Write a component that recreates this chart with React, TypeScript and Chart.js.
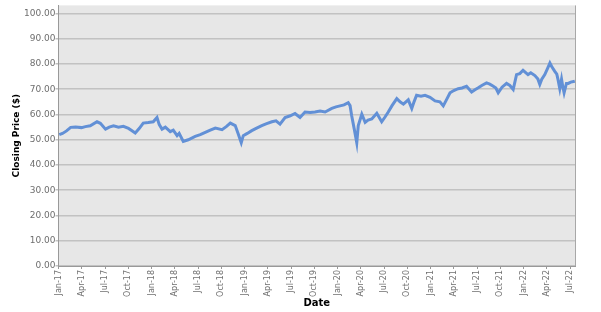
import React, { useEffect, useRef } from "react";
import { Chart, registerables } from "chart.js";

Chart.register(...registerables);

const dates: string[] = [
  "2017-01-04","2017-01-17","2017-02-02","2017-02-17","2017-03-07","2017-03-31","2017-04-15","2017-05-04","2017-05-31","2017-06-13",
  "2017-07-03","2017-07-18","2017-08-04","2017-08-24","2017-09-12","2017-10-02","2017-10-13","2017-10-29","2017-11-14","2017-11-29",
  "2017-12-19","2018-01-08","2018-01-23","2018-02-01","2018-02-11","2018-02-23","2018-03-14","2018-03-26","2018-04-10","2018-04-18",
  "2018-05-04","2018-05-24","2018-06-20","2018-07-10","2018-07-30","2018-08-19","2018-09-08","2018-10-04","2018-10-21","2018-11-06",
  "2018-11-25","2018-12-07","2018-12-19","2018-12-27","2019-01-12","2019-01-30","2019-02-15","2019-03-08","2019-03-25","2019-04-17",
  "2019-05-03","2019-05-19","2019-06-08","2019-06-28","2019-07-17","2019-08-06","2019-08-26","2019-09-15","2019-10-04","2019-10-24",
  "2019-11-13","2019-12-09","2019-12-26","2020-01-11","2020-01-27","2020-02-12","2020-02-19","2020-02-25","2020-03-06","2020-03-16",
  "2020-03-22","2020-04-05","2020-04-18","2020-04-29","2020-05-14","2020-06-03","2020-06-22","2020-07-05","2020-07-18","2020-08-02",
  "2020-08-21","2020-09-03","2020-09-16","2020-10-05","2020-10-19","2020-10-28","2020-11-07","2020-11-24","2020-12-10","2020-12-30",
  "2021-01-19","2021-02-07","2021-02-19","2021-03-01","2021-03-17","2021-04-01","2021-04-18","2021-05-03","2021-05-21","2021-06-10",
  "2021-06-23","2021-07-06","2021-07-20","2021-08-08","2021-08-21","2021-09-04","2021-09-14","2021-09-23","2021-10-08","2021-10-26",
  "2021-11-08","2021-11-21","2021-12-04","2021-12-17","2021-12-30","2022-01-19","2022-01-30","2022-02-14","2022-02-25","2022-03-04",
  "2022-03-12","2022-03-24","2022-04-05","2022-04-13","2022-04-20","2022-05-02","2022-05-10","2022-05-15","2022-05-22","2022-05-29",
  "2022-06-03","2022-06-08","2022-06-17","2022-06-24","2022-07-04","2022-07-20",
];

const closes: number[] = [
  52.0,52.5,53.5,54.9,55.0,54.8,55.2,55.5,57.1,56.5,
  54.2,55.0,55.5,55.0,55.3,54.5,53.8,52.7,54.5,56.6,
  56.8,57.1,58.8,56.0,54.2,55.0,53.2,53.8,51.6,52.5,
  49.3,50.0,51.3,52.0,52.9,53.8,54.6,54.0,55.2,56.6,
  55.6,52.3,48.8,51.6,52.5,53.6,54.5,55.6,56.3,57.1,
  57.5,56.2,58.8,59.5,60.4,58.8,61.0,60.8,61.0,61.4,
  61.0,62.4,63.0,63.4,63.8,64.7,63.5,59.5,54.2,48.8,
  55.6,60.1,56.9,57.8,58.2,60.5,57.1,59.0,61.0,63.5,
  66.3,65.0,64.1,65.8,62.4,65.0,67.6,67.2,67.6,66.8,
  65.4,65.0,63.4,65.5,68.6,69.5,70.2,70.5,71.2,68.9,
  69.8,70.6,71.5,72.5,72.0,71.2,70.5,68.6,70.8,72.3,
  71.5,69.9,75.8,76.2,77.5,75.8,76.5,75.4,74.0,71.9,
  74.0,75.8,78.5,80.4,79.0,77.1,76.0,73.8,70.2,74.0,
  71.0,68.6,72.3,72.3,72.8,73.2,
];

const monthNames: string[] = ["Jan","Feb","Mar","Apr","May","Jun","Jul","Aug","Sep","Oct","Nov","Dec"];
const yTicks: number[] = [0, 10, 20, 30, 40, 50, 60, 70, 80, 90, 100];
const xTickMonths: number[] = [0,3,6,9,12,15,18,21,24,27,30,33,36,39,42,45,48,51,54,57,60,63,66];

function monthIndex(d: string): number {
  const [y, m, day] = d.split("-").map(Number);
  const dim = new Date(y, m, 0).getDate();
  return (y - 2017) * 12 + (m - 1) + (day - 1) / dim;
}

function monthLabel(v: number): string {
  const i = Math.round(v);
  const yy = 17 + Math.floor(i / 12);
  return `${monthNames[i % 12]}-${yy}`;
}

export default function App() {
  const ref = useRef<HTMLCanvasElement | null>(null);
  useEffect(() => {
    if (!ref.current) return;
    const pts = dates.map((d, i) => ({ x: monthIndex(d), y: closes[i] }));
    const bgPlugin = {
      id: "bg",
      beforeDraw(chart: any) {
        const { ctx, chartArea: a } = chart;
        ctx.save();
        ctx.fillStyle = "#e7e7e7";
        ctx.fillRect(a.left, a.top, a.right - a.left, a.bottom - a.top);
        ctx.restore();
      },
      afterDraw(chart: any) {
        const { ctx, chartArea: a } = chart;
        ctx.save();
        ctx.strokeStyle = "#a8a8a8";
        ctx.lineWidth = 1;
        ctx.beginPath();
        ctx.moveTo(a.right + 0.5, a.top);
        ctx.lineTo(a.right + 0.5, a.bottom);
        ctx.stroke();
        ctx.restore();
      },
    };
    const chart = new Chart(ref.current, {
      type: "line",
      data: {
        datasets: [
          {
            data: pts,
            borderColor: "#6290d6",
            borderWidth: 3,
            pointRadius: 0,
            tension: 0,
            fill: false,
          },
        ],
      },
      options: {
        animation: false,
        responsive: false,
        parsing: false as any,
        layout: { padding: { left: 0, top: 2, right: 26, bottom: 0 } },
        plugins: { legend: { display: false }, tooltip: { enabled: false } },
        scales: {
          x: {
            type: "linear",
            min: 0,
            max: 66.64,
            afterBuildTicks(scale: any) {
              scale.ticks = xTickMonths.map((v) => ({ value: v }));
            },
            afterFit(scale: any) {
              scale.height = 46;
            },
            grid: { drawOnChartArea: false, drawTicks: true, tickLength: 3, color: "#999999" },
            border: { display: true, color: "#999999", width: 1 },
            ticks: {
              autoSkip: false,
              maxRotation: 90,
              minRotation: 90,
              padding: 1,
              color: "#707070",
              font: { family: "DejaVu Sans", size: 8 },
              callback: (v: any) => monthLabel(Number(v)),
            },
            title: {
              display: true,
              text: "Date",
              color: "#000000",
              font: { family: "DejaVu Sans", size: 10, weight: "bold" },
              padding: { top: 0, bottom: 3 },
            },
          },
          y: {
            type: "linear",
            min: 0,
            max: 103.2,
            afterBuildTicks(scale: any) {
              scale.ticks = yTicks.map((v) => ({ value: v }));
            },
            afterFit(scale: any) {
              scale.width = 58.5;
            },
            grid: { drawOnChartArea: true, drawTicks: true, tickLength: 3, color: "#c2c2c2", lineWidth: 1.5 },
            border: { display: true, color: "#999999", width: 1 },
            ticks: {
              padding: 0,
              color: "#6e6e6e",
              font: { family: "DejaVu Sans", size: 9 },
              callback: (v: any) => Number(v).toFixed(2),
            },
            title: {
              display: true,
              text: "Closing Price ($)",
              color: "#000000",
              font: { family: "DejaVu Sans", size: 9, weight: "bold" },
              padding: { top: 11.5, bottom: 0 },
            },
          },
        },
      },
      plugins: [bgPlugin],
    });
    return () => chart.destroy();
  }, []);
  return (
    <div style={{ position: "absolute", left: 0, top: 0, width: 601, height: 312, background: "#ffffff" }}>
      <canvas ref={ref} width={601} height={312} />
    </div>
  );
}
